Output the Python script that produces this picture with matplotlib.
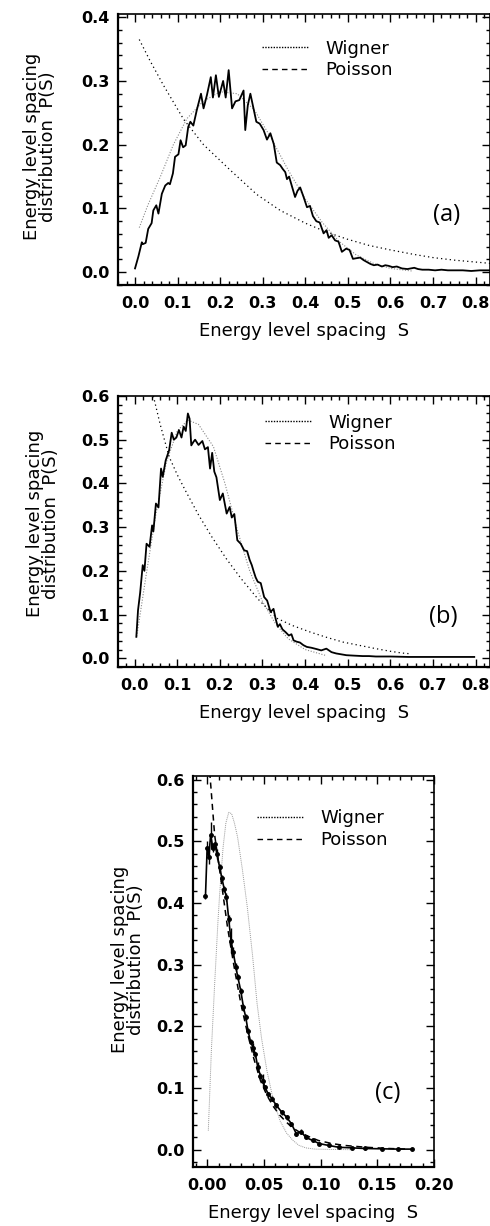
import numpy as np
import matplotlib
matplotlib.use("Agg")
import matplotlib.pyplot as plt
from matplotlib.ticker import MultipleLocator

plt.rcParams["font.family"] = ["DejaVu Sans"]

# ---- panel (a) ----
a_s = [0.000, 0.008, 0.016, 0.018, 0.025, 0.031, 0.039, 0.043, 0.050, 0.055,
       0.063, 0.071, 0.078, 0.082, 0.089, 0.094, 0.102, 0.107, 0.113, 0.119,
       0.125, 0.130, 0.137, 0.145, 0.155, 0.161, 0.169, 0.178, 0.183, 0.190,
       0.197, 0.207, 0.213, 0.220, 0.228, 0.236, 0.245, 0.255, 0.259, 0.265,
       0.271, 0.278, 0.285, 0.293, 0.302, 0.310, 0.318, 0.326, 0.333, 0.341,
       0.347, 0.353, 0.357, 0.362, 0.369, 0.376, 0.382, 0.388, 0.396, 0.404,
       0.411, 0.418, 0.426, 0.434, 0.443, 0.450, 0.455, 0.462, 0.470, 0.478,
       0.486, 0.496, 0.504, 0.512, 0.520, 0.529, 0.537, 0.545, 0.553, 0.561,
       0.570, 0.580, 0.588, 0.596, 0.605, 0.615, 0.627, 0.640, 0.656, 0.665,
       0.675, 0.690, 0.705, 0.720, 0.735, 0.750, 0.770, 0.790, 0.810, 0.830, 0.860]
a_p = [0.006, 0.025, 0.047, 0.044, 0.046, 0.068, 0.077, 0.097, 0.105, 0.092,
       0.123, 0.136, 0.140, 0.138, 0.155, 0.181, 0.185, 0.207, 0.196, 0.199,
       0.228, 0.236, 0.230, 0.254, 0.280, 0.257, 0.278, 0.306, 0.274, 0.309,
       0.275, 0.300, 0.274, 0.317, 0.257, 0.268, 0.270, 0.285, 0.223, 0.262,
       0.280, 0.258, 0.236, 0.233, 0.223, 0.208, 0.218, 0.201, 0.172, 0.168,
       0.162, 0.157, 0.146, 0.150, 0.134, 0.118, 0.128, 0.133, 0.118, 0.102,
       0.104, 0.088, 0.080, 0.078, 0.061, 0.066, 0.054, 0.058, 0.050, 0.048,
       0.032, 0.037, 0.035, 0.021, 0.022, 0.023, 0.019, 0.016, 0.013, 0.011,
       0.012, 0.009, 0.011, 0.010, 0.008, 0.009, 0.006, 0.005, 0.007, 0.005,
       0.004, 0.004, 0.003, 0.004, 0.003, 0.003, 0.003, 0.002, 0.003, 0.003, 0.003]
a_exp_s = [0.01, 0.035, 0.067, 0.114, 0.161, 0.224, 0.286, 0.341, 0.40, 0.45,
           0.498, 0.55, 0.60, 0.655, 0.70, 0.75, 0.80, 0.85]
a_exp_p = [0.365, 0.332, 0.293, 0.240, 0.200, 0.160, 0.122, 0.097, 0.077, 0.063,
           0.052, 0.042, 0.035, 0.028, 0.023, 0.019, 0.016, 0.013]
a_wig_s = [0.010, 0.030, 0.059, 0.090, 0.122, 0.160, 0.200, 0.240, 0.280, 0.320,
           0.360, 0.400, 0.440, 0.480, 0.520, 0.560, 0.600, 0.650]
a_wig_p = [0.070, 0.105, 0.149, 0.200, 0.241, 0.268, 0.283, 0.280, 0.255, 0.210,
           0.160, 0.115, 0.078, 0.048, 0.027, 0.014, 0.006, 0.002]

# ---- panel (b) ----
b_s = [0.004, 0.008, 0.013, 0.019, 0.023, 0.028, 0.035, 0.041, 0.044, 0.050,
       0.056, 0.062, 0.066, 0.073, 0.081, 0.087, 0.092, 0.098, 0.104, 0.110,
       0.115, 0.120, 0.125, 0.129, 0.133, 0.138, 0.142, 0.150, 0.159, 0.165,
       0.172, 0.177, 0.182, 0.187, 0.192, 0.200, 0.207, 0.216, 0.223, 0.228,
       0.234, 0.241, 0.249, 0.257, 0.264, 0.270, 0.275, 0.279, 0.284, 0.289,
       0.296, 0.304, 0.311, 0.319, 0.326, 0.331, 0.336, 0.341, 0.347, 0.354,
       0.362, 0.368, 0.373, 0.380, 0.388, 0.396, 0.404, 0.415, 0.427, 0.438,
       0.450, 0.462, 0.473, 0.485, 0.497, 0.515, 0.535, 0.550, 0.566, 0.600,
       0.643, 0.700, 0.750, 0.797]
b_p = [0.049, 0.110, 0.150, 0.213, 0.200, 0.262, 0.255, 0.304, 0.290, 0.354,
       0.345, 0.434, 0.415, 0.453, 0.476, 0.516, 0.500, 0.505, 0.522, 0.505,
       0.530, 0.520, 0.560, 0.548, 0.487, 0.495, 0.500, 0.488, 0.497, 0.478,
       0.483, 0.434, 0.470, 0.427, 0.414, 0.362, 0.377, 0.331, 0.346, 0.322,
       0.330, 0.270, 0.262, 0.247, 0.245, 0.225, 0.213, 0.200, 0.185, 0.175,
       0.172, 0.140, 0.132, 0.106, 0.113, 0.090, 0.072, 0.078, 0.066, 0.060,
       0.052, 0.055, 0.041, 0.038, 0.036, 0.030, 0.026, 0.024, 0.021, 0.018,
       0.022, 0.014, 0.011, 0.009, 0.007, 0.006, 0.005, 0.005, 0.004, 0.004,
       0.003, 0.003, 0.003, 0.003]
b_exp_s = [0.044, 0.060, 0.081, 0.100, 0.119, 0.150, 0.181, 0.215, 0.250, 0.290,
           0.335, 0.370, 0.412, 0.450, 0.489, 0.530, 0.566, 0.600, 0.627, 0.650]
b_exp_p = [0.600, 0.535, 0.461, 0.420, 0.384, 0.328, 0.278, 0.228, 0.182, 0.135,
           0.091, 0.075, 0.060, 0.048, 0.037, 0.029, 0.022, 0.016, 0.012, 0.010]
b_wig_s = [0.005, 0.016, 0.027, 0.050, 0.075, 0.100, 0.125, 0.150, 0.185, 0.212,
           0.242, 0.270, 0.300, 0.330, 0.360, 0.400, 0.450]
b_wig_p = [0.050, 0.120, 0.190, 0.330, 0.450, 0.520, 0.545, 0.535, 0.484, 0.400,
           0.290, 0.200, 0.130, 0.080, 0.045, 0.020, 0.006]

# ---- panel (c) ----
c_s = [-0.0015, 0.0000, 0.0015, 0.0030, 0.0050, 0.0070, 0.0085, 0.0110, 0.0130,
       0.0150, 0.0170, 0.0190, 0.0210, 0.0230, 0.0253, 0.0270, 0.0296, 0.0320,
       0.0340, 0.0360, 0.0383, 0.0406, 0.0425, 0.0446, 0.0470, 0.0490, 0.0510,
       0.0540, 0.0570, 0.0610, 0.0657, 0.0700, 0.0743, 0.0786, 0.0829, 0.0870,
       0.0930, 0.0988, 0.1070, 0.1160, 0.1280, 0.1390, 0.1540, 0.1680, 0.1810]
c_p = [0.411, 0.490, 0.475, 0.510, 0.490, 0.495, 0.480, 0.458, 0.440,
       0.423, 0.410, 0.374, 0.339, 0.320, 0.296, 0.280, 0.258, 0.231,
       0.215, 0.193, 0.175, 0.165, 0.155, 0.134, 0.120, 0.112, 0.101,
       0.090, 0.083, 0.072, 0.061, 0.053, 0.042, 0.026, 0.029, 0.020,
       0.015, 0.010, 0.007, 0.004, 0.003, 0.002, 0.0015, 0.001, 0.001]
c_err = [0.004, 0.010, 0.012, 0.022, 0.008, 0.006, 0.008, 0.005, 0.005,
         0.005, 0.006, 0.006, 0.020, 0.008, 0.006, 0.005, 0.005, 0.006,
         0.005, 0.005, 0.004, 0.008, 0.004, 0.008, 0.004, 0.010, 0.004,
         0.004, 0.004, 0.004, 0.004, 0.004, 0.003, 0.003, 0.004, 0.003,
         0.003, 0.003, 0.002, 0.002, 0.002, 0.002, 0.001, 0.001, 0.001]
c_poi_s = [0.0015, 0.0066, 0.0124, 0.018, 0.0239, 0.0296, 0.0354, 0.0411, 0.047,
           0.0527, 0.0584, 0.064, 0.0697, 0.075, 0.081, 0.090, 0.098, 0.110,
           0.121, 0.140, 0.160, 0.178]
c_poi_p = [0.630, 0.510, 0.435, 0.360, 0.295, 0.238, 0.190, 0.148, 0.112,
           0.088, 0.070, 0.056, 0.045, 0.036, 0.029, 0.021, 0.015, 0.010,
           0.007, 0.004, 0.002, 0.001]
c_wig_s = [0.001, 0.0037, 0.0066, 0.0095, 0.011, 0.014, 0.0165, 0.019, 0.0215,
           0.024, 0.0268, 0.031, 0.0354, 0.040, 0.044, 0.048, 0.0527, 0.058,
           0.0642, 0.070, 0.0757, 0.081, 0.087, 0.095, 0.110, 0.130]
c_wig_p = [0.031, 0.161, 0.269, 0.370, 0.415, 0.490, 0.530, 0.547, 0.545,
           0.530, 0.507, 0.455, 0.393, 0.315, 0.237, 0.180, 0.128, 0.083,
           0.047, 0.027, 0.015, 0.007, 0.003, 0.001, 0.0005, 0.0]

xlabel = "Energy level spacing  S"
ylabel = "Energy level spacing\ndistribution  P(S)"

W, H = 490, 1226
fig = plt.figure(figsize=(W / 100, H / 100), dpi=100)


def frame(ax, xlim, ylim, xmaj, xmin, ymaj, ymin, fmt):
    ax.set_xlim(*xlim)
    ax.set_ylim(*ylim)
    ax.xaxis.set_major_locator(MultipleLocator(xmaj))
    ax.xaxis.set_minor_locator(MultipleLocator(xmin))
    ax.yaxis.set_major_locator(MultipleLocator(ymaj))
    ax.yaxis.set_minor_locator(MultipleLocator(ymin))
    ax.xaxis.set_major_formatter(plt.FormatStrFormatter(fmt))
    ax.yaxis.set_major_formatter(plt.FormatStrFormatter("%.1f"))
    ax.tick_params(which="both", direction="in", top=True, right=True,
                   labelsize=11.5, width=1.0)
    ax.tick_params(axis="x", which="major", length=6, pad=8)
    ax.tick_params(axis="y", which="major", length=6, pad=6)
    ax.tick_params(which="minor", length=3)
    for lab in ax.get_xticklabels() + ax.get_yticklabels():
        lab.set_fontweight("bold")
    for s in ["left", "bottom"]:
        ax.spines[s].set_linewidth(1.6)
    for s in ["top", "right"]:
        ax.spines[s].set_linewidth(1.2)
    ax.set_xlabel(xlabel, fontsize=13, labelpad=8)


def legend(ax, x, y):
    h1, = ax.plot([], [], color="black", lw=1.0, linestyle=(0, (1, 1)))
    h2, = ax.plot([], [], color="black", lw=1.0, linestyle=(0, (4, 3)))
    ax.legend([h1, h2], ["Wigner", "Poisson"], loc="upper left",
              bbox_to_anchor=(x, y), frameon=False, fontsize=13,
              handlelength=2.6, handletextpad=0.9, labelspacing=0.2,
              borderpad=0, borderaxespad=0)


def fpos(left, top, right, bottom):
    return [left / W, 1 - bottom / H, (right - left) / W, (bottom - top) / H]


# (a)
ax1 = fig.add_axes(fpos(118, 14, 490, 285))
ax1.plot(a_wig_s, a_wig_p, color="#888888", lw=0.8, linestyle=(0, (1, 1.5)))
ax1.plot(a_exp_s, a_exp_p, color="black", lw=0.9, linestyle=(0, (1, 2.5)))
ax1.plot(a_s, a_p, color="black", lw=1.3)
frame(ax1, (-0.04, 0.834), (-0.02, 0.405), 0.1, 0.02, 0.1, 0.02, "%.1f")
ax1.set_ylabel(ylabel, fontsize=13, linespacing=0.85)
ax1.yaxis.set_label_coords(-0.165, 0.51)
legend(ax1, 0.387, 0.905)
ax1.text(0.884, 0.258, "(a)", transform=ax1.transAxes, ha="center",
         va="center", fontsize=17, family="Open Sans")

# (b)
ax2 = fig.add_axes(fpos(118, 396, 490, 667))
ax2.plot(b_wig_s, b_wig_p, color="#888888", lw=0.8, linestyle=(0, (1, 1.5)))
ax2.plot(b_exp_s, b_exp_p, color="black", lw=0.9, linestyle=(0, (1, 2.5)))
ax2.plot(b_s, b_p, color="black", lw=1.3)
frame(ax2, (-0.039, 0.834), (-0.02, 0.6), 0.1, 0.02, 0.1, 0.02, "%.1f")
ax2.set_ylabel(ylabel, fontsize=13, linespacing=0.85)
ax2.yaxis.set_label_coords(-0.155, 0.53)
legend(ax2, 0.395, 0.935)
ax2.text(0.874, 0.185, "(b)", transform=ax2.transAxes, ha="center",
         va="center", fontsize=17, family="Open Sans")

# (c)
ax3 = fig.add_axes(fpos(193, 776, 434, 1167))
ax3.plot(c_wig_s, c_wig_p, color="#999999", lw=0.7, linestyle=(0, (1, 1)))
ax3.plot(c_poi_s, c_poi_p, color="black", lw=1.1, linestyle=(0, (4, 3)))
ax3.errorbar(c_s, c_p, yerr=c_err, color="black", lw=1.2, marker="o",
             markersize=2.5, elinewidth=1.0, capsize=0)
frame(ax3, (-0.0125, 0.2), (-0.028, 0.606), 0.05, 0.01, 0.1, 0.02, "%.2f")
ax3.set_ylabel(ylabel, fontsize=13, linespacing=0.85)
ax3.yaxis.set_label_coords(-0.2, 0.53)
legend(ax3, 0.267, 0.915)
ax3.text(0.807, 0.188, "(c)", transform=ax3.transAxes, ha="center",
         va="center", fontsize=17, family="Open Sans")

fig.savefig("out.png", dpi=100)
